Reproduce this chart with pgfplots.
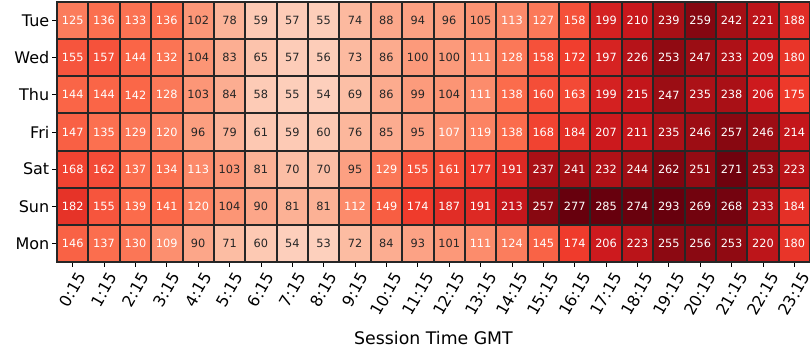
\documentclass[border=0pt]{standalone}
\usepackage{pgfplots}
\pgfplotsset{compat=1.18}
\usepackage{pgfplotstable}
\usepackage{fontspec}
\setmainfont{DejaVu Sans}
\definecolor{gridc}{HTML}{262626}
\definecolor{txt}{HTML}{262626}
\pgfplotstableread[row sep=\\]{
x y v\\
0 0 125\\1 0 136\\2 0 133\\3 0 136\\4 0 102\\5 0 78\\6 0 59\\7 0 57\\8 0 55\\9 0 74\\10 0 88\\11 0 94\\12 0 96\\13 0 105\\14 0 113\\15 0 127\\16 0 158\\17 0 199\\18 0 210\\19 0 239\\20 0 259\\21 0 242\\22 0 221\\23 0 188\\
0 1 155\\1 1 157\\2 1 144\\3 1 132\\4 1 104\\5 1 83\\6 1 65\\7 1 57\\8 1 56\\9 1 73\\10 1 86\\11 1 100\\12 1 100\\13 1 111\\14 1 128\\15 1 158\\16 1 172\\17 1 197\\18 1 226\\19 1 253\\20 1 247\\21 1 233\\22 1 209\\23 1 180\\
0 2 144\\1 2 144\\2 2 142\\3 2 128\\4 2 103\\5 2 84\\6 2 58\\7 2 55\\8 2 54\\9 2 69\\10 2 86\\11 2 99\\12 2 104\\13 2 111\\14 2 138\\15 2 160\\16 2 163\\17 2 199\\18 2 215\\19 2 247\\20 2 235\\21 2 238\\22 2 206\\23 2 175\\
0 3 147\\1 3 135\\2 3 129\\3 3 120\\4 3 96\\5 3 79\\6 3 61\\7 3 59\\8 3 60\\9 3 76\\10 3 85\\11 3 95\\12 3 107\\13 3 119\\14 3 138\\15 3 168\\16 3 184\\17 3 207\\18 3 211\\19 3 235\\20 3 246\\21 3 257\\22 3 246\\23 3 214\\
0 4 168\\1 4 162\\2 4 137\\3 4 134\\4 4 113\\5 4 103\\6 4 81\\7 4 70\\8 4 70\\9 4 95\\10 4 129\\11 4 155\\12 4 161\\13 4 177\\14 4 191\\15 4 237\\16 4 241\\17 4 232\\18 4 244\\19 4 262\\20 4 251\\21 4 271\\22 4 253\\23 4 223\\
0 5 182\\1 5 155\\2 5 139\\3 5 141\\4 5 120\\5 5 104\\6 5 90\\7 5 81\\8 5 81\\9 5 112\\10 5 149\\11 5 174\\12 5 187\\13 5 191\\14 5 213\\15 5 257\\16 5 277\\17 5 285\\18 5 274\\19 5 293\\20 5 269\\21 5 268\\22 5 233\\23 5 184\\
0 6 146\\1 6 137\\2 6 130\\3 6 109\\4 6 90\\5 6 71\\6 6 60\\7 6 54\\8 6 53\\9 6 72\\10 6 84\\11 6 93\\12 6 101\\13 6 111\\14 6 124\\15 6 145\\16 6 174\\17 6 206\\18 6 223\\19 6 255\\20 6 256\\21 6 253\\22 6 220\\23 6 180\\
}\data
\begin{document}
\begin{tikzpicture}
\begin{axis}[
  at={(0,0)}, anchor=south west,
  width=564.75pt, height=195pt, scale only axis,
  xmin=-0.5, xmax=23.5, ymin=-0.5, ymax=6.5,
  y dir=reverse,
  colormap={reds}{rgb255=(255,245,240) rgb255=(254,224,210) rgb255=(252,187,161) rgb255=(252,146,114) rgb255=(251,106,74) rgb255=(239,59,44) rgb255=(203,24,29) rgb255=(165,15,21) rgb255=(103,0,13)},
  point meta min=5, point meta max=275,
  xtick={0,...,23}, ytick={0,...,6},
  yticklabels={Tue,Wed,Thu,Fri,Sat,Sun,Mon},
  xticklabels={\rotatebox{60}{0:15},\rotatebox{60}{1:15},\rotatebox{60}{2:15},\rotatebox{60}{3:15},\rotatebox{60}{4:15},\rotatebox{60}{5:15},\rotatebox{60}{6:15},\rotatebox{60}{7:15},\rotatebox{60}{8:15},\rotatebox{60}{9:15},\rotatebox{60}{10:15},\rotatebox{60}{11:15},\rotatebox{60}{12:15},\rotatebox{60}{13:15},\rotatebox{60}{14:15},\rotatebox{60}{15:15},\rotatebox{60}{16:15},\rotatebox{60}{17:15},\rotatebox{60}{18:15},\rotatebox{60}{19:15},\rotatebox{60}{20:15},\rotatebox{60}{21:15},\rotatebox{60}{22:15},\rotatebox{60}{23:15}},
  xticklabel style={anchor=north, font=\fontsize{12}{14}\selectfont, inner sep=2pt, yshift=-1pt},
  yticklabel style={font=\fontsize{12}{14}\selectfont, inner sep=2pt},
  minor xtick={-0.5,0.5,...,23.5}, minor ytick={-0.5,0.5,...,6.5},
  minor tick length=0pt,
  grid=minor,
  minor grid style={draw=gridc, line width=1.5pt},
  axis line style={draw=gridc, line width=1.5pt},
  tick align=outside, major tick length=3.6pt,
  major tick style={draw=black, line width=0.6pt},
  xtick pos=bottom, ytick pos=left,
  axis on top,
  xlabel={Session Time GMT},
  every axis x label/.style={at={(axis description cs:0.5,0)}, anchor=center, yshift=-57pt, font=\fontsize{13}{15}\selectfont},
]
\addplot[matrix plot*, mesh/cols=24, point meta=\thisrow{v}] table[x=x, y=y] {\data};
\addplot[only marks, mark=none,
  visualization depends on={\thisrow{v}\as\val},
  nodes near coords={\pgfmathtruncatemacro\vv{\val}\ifnum\vv>106 \color{white}\else\color{txt}\fi\vv},
  every node near coord/.style={anchor=center, font=\fontsize{8.5}{10}\selectfont, inner sep=0pt}]
  table[x=x, y=y] {\data};
\end{axis}
\pgfresetboundingbox
\path[use as bounding box] (-42.75pt,-73.5pt) rectangle (564.75pt,196.5pt);
\end{tikzpicture}
\end{document}
